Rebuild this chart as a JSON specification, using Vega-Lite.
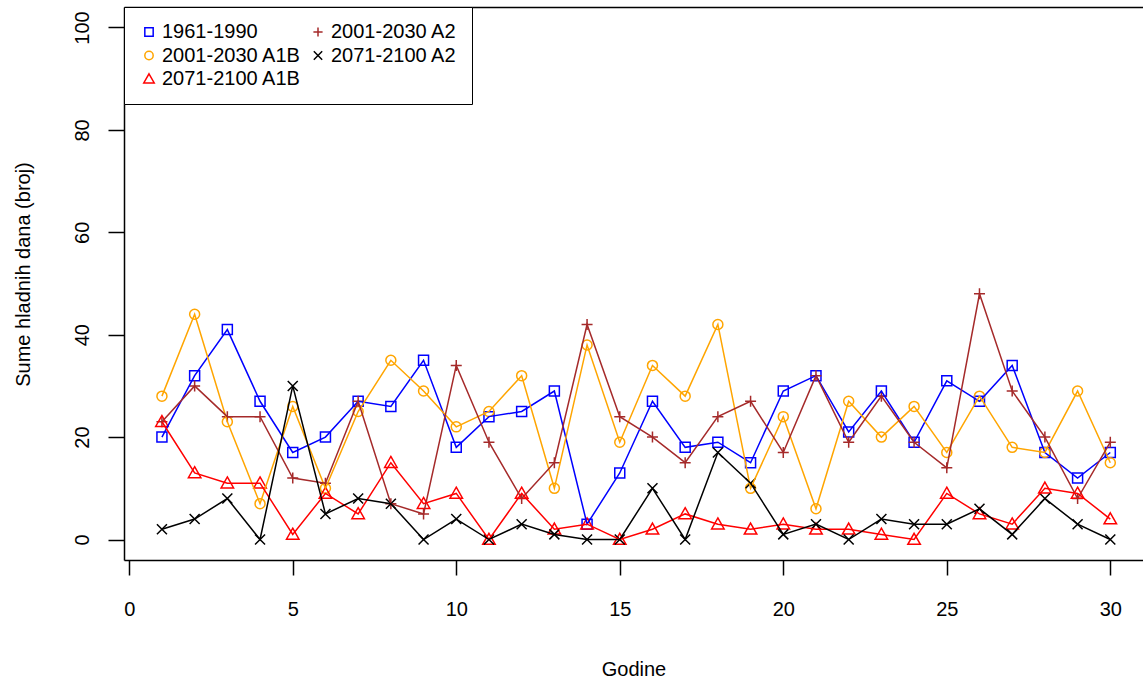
{
  "$schema": "https://vega.github.io/schema/vega-lite/v6.json",
  "autosize": {"type": "none"},
  "padding": {"left": 124, "top": 7, "right": 0, "bottom": 121},
  "width": 1019,
  "height": 553,
  "config": {
    "view": {"stroke": null},
    "font": "Liberation Sans",
    "background": "white",
    "legend": {"orient": "none", "legendX": 0, "legendY": 0, "title": null, "columns": 2,
            "columnPadding": 6, "rowPadding": 3.5, "padding": 15,
            "strokeColor": "black", "fillColor": "white",
            "labelFontSize": 20, "labelColor": "black", "labelOffset": 3, "labelLimit": 300,
            "symbolSize": 70, "symbolStrokeWidth": 1.5}
  },
  "data": {"values": [
    {"year":1,"series":"1961-1990","value":20},{"year":2,"series":"1961-1990","value":32},{"year":3,"series":"1961-1990","value":41},{"year":4,"series":"1961-1990","value":27},{"year":5,"series":"1961-1990","value":17},{"year":6,"series":"1961-1990","value":20},{"year":7,"series":"1961-1990","value":27},{"year":8,"series":"1961-1990","value":26},{"year":9,"series":"1961-1990","value":35},{"year":10,"series":"1961-1990","value":18},{"year":11,"series":"1961-1990","value":24},{"year":12,"series":"1961-1990","value":25},{"year":13,"series":"1961-1990","value":29},{"year":14,"series":"1961-1990","value":3},{"year":15,"series":"1961-1990","value":13},{"year":16,"series":"1961-1990","value":27},{"year":17,"series":"1961-1990","value":18},{"year":18,"series":"1961-1990","value":19},{"year":19,"series":"1961-1990","value":15},{"year":20,"series":"1961-1990","value":29},{"year":21,"series":"1961-1990","value":32},{"year":22,"series":"1961-1990","value":21},{"year":23,"series":"1961-1990","value":29},{"year":24,"series":"1961-1990","value":19},{"year":25,"series":"1961-1990","value":31},{"year":26,"series":"1961-1990","value":27},{"year":27,"series":"1961-1990","value":34},{"year":28,"series":"1961-1990","value":17},{"year":29,"series":"1961-1990","value":12},{"year":30,"series":"1961-1990","value":17},
    {"year":1,"series":"2001-2030 A1B","value":28},{"year":2,"series":"2001-2030 A1B","value":44},{"year":3,"series":"2001-2030 A1B","value":23},{"year":4,"series":"2001-2030 A1B","value":7},{"year":5,"series":"2001-2030 A1B","value":26},{"year":6,"series":"2001-2030 A1B","value":10},{"year":7,"series":"2001-2030 A1B","value":25},{"year":8,"series":"2001-2030 A1B","value":35},{"year":9,"series":"2001-2030 A1B","value":29},{"year":10,"series":"2001-2030 A1B","value":22},{"year":11,"series":"2001-2030 A1B","value":25},{"year":12,"series":"2001-2030 A1B","value":32},{"year":13,"series":"2001-2030 A1B","value":10},{"year":14,"series":"2001-2030 A1B","value":38},{"year":15,"series":"2001-2030 A1B","value":19},{"year":16,"series":"2001-2030 A1B","value":34},{"year":17,"series":"2001-2030 A1B","value":28},{"year":18,"series":"2001-2030 A1B","value":42},{"year":19,"series":"2001-2030 A1B","value":10},{"year":20,"series":"2001-2030 A1B","value":24},{"year":21,"series":"2001-2030 A1B","value":6},{"year":22,"series":"2001-2030 A1B","value":27},{"year":23,"series":"2001-2030 A1B","value":20},{"year":24,"series":"2001-2030 A1B","value":26},{"year":25,"series":"2001-2030 A1B","value":17},{"year":26,"series":"2001-2030 A1B","value":28},{"year":27,"series":"2001-2030 A1B","value":18},{"year":28,"series":"2001-2030 A1B","value":17},{"year":29,"series":"2001-2030 A1B","value":29},{"year":30,"series":"2001-2030 A1B","value":15},
    {"year":1,"series":"2001-2030 A2","value":23},{"year":2,"series":"2001-2030 A2","value":30},{"year":3,"series":"2001-2030 A2","value":24},{"year":4,"series":"2001-2030 A2","value":24},{"year":5,"series":"2001-2030 A2","value":12},{"year":6,"series":"2001-2030 A2","value":11},{"year":7,"series":"2001-2030 A2","value":27},{"year":8,"series":"2001-2030 A2","value":7},{"year":9,"series":"2001-2030 A2","value":5},{"year":10,"series":"2001-2030 A2","value":34},{"year":11,"series":"2001-2030 A2","value":19},{"year":12,"series":"2001-2030 A2","value":8},{"year":13,"series":"2001-2030 A2","value":15},{"year":14,"series":"2001-2030 A2","value":42},{"year":15,"series":"2001-2030 A2","value":24},{"year":16,"series":"2001-2030 A2","value":20},{"year":17,"series":"2001-2030 A2","value":15},{"year":18,"series":"2001-2030 A2","value":24},{"year":19,"series":"2001-2030 A2","value":27},{"year":20,"series":"2001-2030 A2","value":17},{"year":21,"series":"2001-2030 A2","value":32},{"year":22,"series":"2001-2030 A2","value":19},{"year":23,"series":"2001-2030 A2","value":28},{"year":24,"series":"2001-2030 A2","value":19},{"year":25,"series":"2001-2030 A2","value":14},{"year":26,"series":"2001-2030 A2","value":48},{"year":27,"series":"2001-2030 A2","value":29},{"year":28,"series":"2001-2030 A2","value":20},{"year":29,"series":"2001-2030 A2","value":8},{"year":30,"series":"2001-2030 A2","value":19},
    {"year":1,"series":"2071-2100 A1B","value":23},{"year":2,"series":"2071-2100 A1B","value":13},{"year":3,"series":"2071-2100 A1B","value":11},{"year":4,"series":"2071-2100 A1B","value":11},{"year":5,"series":"2071-2100 A1B","value":1},{"year":6,"series":"2071-2100 A1B","value":9},{"year":7,"series":"2071-2100 A1B","value":5},{"year":8,"series":"2071-2100 A1B","value":15},{"year":9,"series":"2071-2100 A1B","value":7},{"year":10,"series":"2071-2100 A1B","value":9},{"year":11,"series":"2071-2100 A1B","value":0},{"year":12,"series":"2071-2100 A1B","value":9},{"year":13,"series":"2071-2100 A1B","value":2},{"year":14,"series":"2071-2100 A1B","value":3},{"year":15,"series":"2071-2100 A1B","value":0},{"year":16,"series":"2071-2100 A1B","value":2},{"year":17,"series":"2071-2100 A1B","value":5},{"year":18,"series":"2071-2100 A1B","value":3},{"year":19,"series":"2071-2100 A1B","value":2},{"year":20,"series":"2071-2100 A1B","value":3},{"year":21,"series":"2071-2100 A1B","value":2},{"year":22,"series":"2071-2100 A1B","value":2},{"year":23,"series":"2071-2100 A1B","value":1},{"year":24,"series":"2071-2100 A1B","value":0},{"year":25,"series":"2071-2100 A1B","value":9},{"year":26,"series":"2071-2100 A1B","value":5},{"year":27,"series":"2071-2100 A1B","value":3},{"year":28,"series":"2071-2100 A1B","value":10},{"year":29,"series":"2071-2100 A1B","value":9},{"year":30,"series":"2071-2100 A1B","value":4},
    {"year":1,"series":"2071-2100 A2","value":2},{"year":2,"series":"2071-2100 A2","value":4},{"year":3,"series":"2071-2100 A2","value":8},{"year":4,"series":"2071-2100 A2","value":0},{"year":5,"series":"2071-2100 A2","value":30},{"year":6,"series":"2071-2100 A2","value":5},{"year":7,"series":"2071-2100 A2","value":8},{"year":8,"series":"2071-2100 A2","value":7},{"year":9,"series":"2071-2100 A2","value":0},{"year":10,"series":"2071-2100 A2","value":4},{"year":11,"series":"2071-2100 A2","value":0},{"year":12,"series":"2071-2100 A2","value":3},{"year":13,"series":"2071-2100 A2","value":1},{"year":14,"series":"2071-2100 A2","value":0},{"year":15,"series":"2071-2100 A2","value":0},{"year":16,"series":"2071-2100 A2","value":10},{"year":17,"series":"2071-2100 A2","value":0},{"year":18,"series":"2071-2100 A2","value":17},{"year":19,"series":"2071-2100 A2","value":11},{"year":20,"series":"2071-2100 A2","value":1},{"year":21,"series":"2071-2100 A2","value":3},{"year":22,"series":"2071-2100 A2","value":0},{"year":23,"series":"2071-2100 A2","value":4},{"year":24,"series":"2071-2100 A2","value":3},{"year":25,"series":"2071-2100 A2","value":3},{"year":26,"series":"2071-2100 A2","value":6},{"year":27,"series":"2071-2100 A2","value":1},{"year":28,"series":"2071-2100 A2","value":8},{"year":29,"series":"2071-2100 A2","value":3},{"year":30,"series":"2071-2100 A2","value":0}
  ]},
  "encoding": {
    "y": {"field": "value", "type": "quantitative",
      "scale": {"domain": [-4, 104], "nice": false, "zero": false},
      "axis": {"orient": "left", "values": [0,20,40,60,80,100], "grid": false,
        "domain": true, "domainColor": "black", "domainWidth": 1.5,
        "tickColor": "black", "tickSize": 16, "tickWidth": 1.5,
        "labelFontSize": 20, "labelColor": "black", "labelAngle": 270, "labelAlign": "center", "labelBaseline": "alphabetic", "labelPadding": 20, "labelFlush": false,
        "title": "Sume hladnih dana (broj)", "titleFontSize": 20, "titleFontWeight": "normal", "titleColor": "black",
        "titleAngle": 270, "titleAlign": "center", "titleBaseline": "alphabetic", "titleX": -95, "titleY": 267}},
    "color": {"field": "series", "type": "nominal",
      "scale": {"domain": ["1961-1990", "2001-2030 A1B", "2071-2100 A1B", "2001-2030 A2", "2071-2100 A2"],
                "range": ["#0000FF", "#FFA500", "#FF0000", "#A52A2A", "#000000"]}}
  },
  "layer": [
    {
      "mark": {"type": "point", "filled": false, "size": 100, "strokeWidth": 1.5, "opacity": 1},
      "encoding": {
        "x": {"field": "year", "type": "quantitative",
          "scale": {"domain": [-0.16, 31], "nice": false, "zero": false},
          "axis": {"orient": "top", "grid": false, "domain": true, "domainColor": "black", "domainWidth": 1.5,
            "ticks": false, "labels": false, "title": null}},
        "shape": {"field": "series", "type": "nominal",
          "scale": {"domain": ["1961-1990", "2001-2030 A1B", "2071-2100 A1B", "2001-2030 A2", "2071-2100 A2"],
                    "range": ["M-1,-1H1V1H-1Z", "circle", "M0,-1.25L1.25,0.95L-1.25,0.95Z", "M-1.1,0H1.1M0,-1.1V1.1", "M-1,-1L1,1M-1,1L1,-1"]}}
      }
    },
    {
      "mark": {"type": "line", "strokeWidth": 1.5},
      "encoding": {
        "x": {"field": "year", "type": "quantitative",
          "scale": {"domain": [-0.16, 31], "nice": false, "zero": false},
          "axis": {"orient": "bottom", "values": [0,5,10,15,20,25,30], "grid": false,
            "domain": true, "domainColor": "black", "domainWidth": 1.5,
            "tickColor": "black", "tickSize": 15, "tickWidth": 1.5,
            "labelFontSize": 20, "labelColor": "black", "labelBaseline": "alphabetic", "labelPadding": 40, "labelFlush": false,
            "title": "Godine", "titleFontSize": 20, "titleFontWeight": "normal", "titleColor": "black",
            "titleBaseline": "alphabetic", "titleY": 115}}
      }
    }
  ],
  "resolve": {"axis": {"x": "independent"}}
}
